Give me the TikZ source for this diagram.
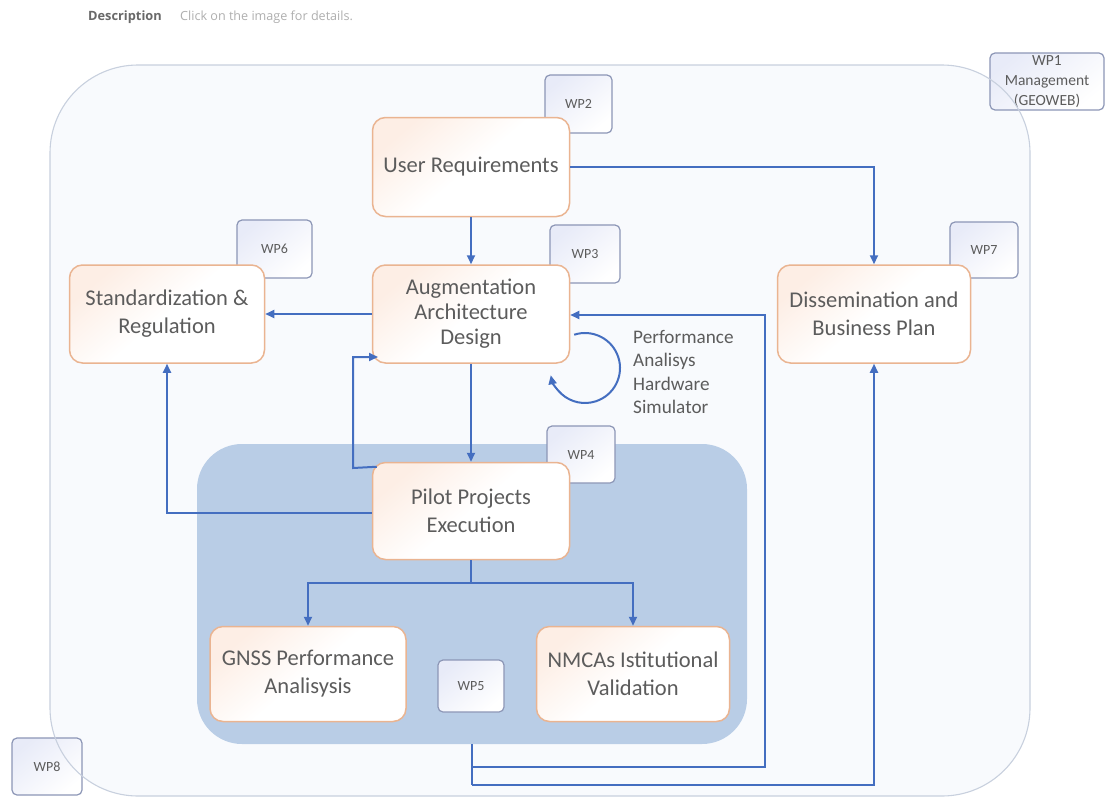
\documentclass[tikz,border=0pt]{standalone}
\usepackage{fontspec}
\setmainfont{Carlito}
\newfontfamily\hdrfont{Open Sans}
\usetikzlibrary{arrows.meta,calc}
\definecolor{txtgray}{RGB}{92,92,92}
\definecolor{conn}{RGB}{68,110,192}
\definecolor{orangeedge}{RGB}{234,180,145}
\definecolor{peach}{RGB}{253,238,229}
\definecolor{wpedge}{RGB}{140,150,182}
\definecolor{wpfill}{RGB}{232,235,248}
\definecolor{areablue}{RGB}{185,205,230}
\definecolor{frameedge}{RGB}{200,208,222}
\definecolor{framefill}{RGB}{248,250,253}
\tikzset{
  mainbox/.style={draw=orangeedge, line width=1.5pt, rounded corners=13pt,
    top color=peach, bottom color=white, middle color=white, shading angle=40,
    text=txtgray, align=center, inner sep=0pt,
    font=\fontsize{22.5}{28}\selectfont},
  wpbox/.style={draw=wpedge, line width=1.2pt, rounded corners=5pt,
    top color=wpfill, bottom color=white, shading angle=40,
    text=txtgray, align=center, inner sep=0pt,
    font=\fontsize{14}{16}\selectfont},
  conn/.style={draw=conn, line width=2pt},
  arr/.style={conn, -{Triangle[length=9pt,width=8pt]}},
}
\begin{document}
\begin{tikzpicture}[x=1pt,y=-1pt]
\useasboundingbox (0,0) rectangle (1105,798);
\fill[white] (0,0) rectangle (1105,798);

% header
\node[anchor=west, inner sep=0pt, text={rgb,255:red,105;green,105;blue,105}, font=\hdrfont\bfseries\fontsize{12.8}{14}\selectfont] (hdr) at (88,17) {Description};
\node[anchor=west, inner sep=0pt, text={rgb,255:red,175;green,175;blue,175}, font=\hdrfont\fontsize{12.6}{14}\selectfont] (hdr2) at (180,17) {Click on the image for details.};

% outer frame fill
\fill[framefill, rounded corners=88pt] (50,65) rectangle (1030,796);

% WP boxes outside
\node[wpbox, minimum width=114pt, minimum height=57pt, font=\fontsize{15.5}{20}\selectfont] (wp1) at (1047,81.5) {WP1\\Management\\(GEOWEB)};
\node[wpbox, minimum width=70pt, minimum height=57pt] (wp8) at (47,766.5) {WP8};

% outer frame stroke
\draw[frameedge, line width=1.1pt, rounded corners=88pt] (50,65) rectangle (1030,796);

% blue area
\node[fill=areablue, rounded corners=45pt, minimum width=550pt, minimum height=300pt, inner sep=0pt] (area) at (472,594) {};

\node[wpbox, minimum width=67pt, minimum height=58pt] (wp2) at (578.5,104) {WP2};
\node[wpbox, minimum width=70pt, minimum height=58pt] (wp3) at (585,254) {WP3};
\node[wpbox, minimum width=75pt, minimum height=58pt] (wp6) at (274.5,249) {WP6};
\node[wpbox, minimum width=68pt, minimum height=56pt] (wp7) at (984,250) {WP7};
\node[wpbox, minimum width=68pt, minimum height=57pt] (wp4) at (581,454.5) {WP4};
\node[wpbox, minimum width=66pt, minimum height=52pt] (wp5) at (471,686) {WP5};

% main boxes
\node[mainbox, minimum width=197pt, minimum height=99pt] (ur) at (471,167) {User Requirements};
\node[mainbox, minimum width=197pt, minimum height=98pt, font=\fontsize{22.5}{25}\selectfont] (aug) at (471,314) {Augmentation\\Architecture\\Design};
\node[mainbox, minimum width=195pt, minimum height=98pt] (std) at (167,314) {Standardization \&\\Regulation};
\node[mainbox, minimum width=193pt, minimum height=98pt] (dis) at (874,314) {Dissemination and\\Business Plan};
\node[mainbox, minimum width=197pt, minimum height=97pt] (pilot) at (471,511) {Pilot Projects\\Execution};
\node[mainbox, minimum width=196pt, minimum height=95pt] (gnss) at (308,674) {GNSS Performance\\Analisysis};
\node[mainbox, minimum width=193pt, minimum height=95pt] (nmca) at (633,674) {NMCAs Istitutional\\Validation};

% side label
\node[anchor=north west, align=left, inner sep=0pt, text=txtgray, font=\fontsize{19.2}{23.5}\selectfont] (perf) at (633,330) {Performance\\Analisys\\Hardware\\Simulator};

% connectors
\draw[arr] (ur.south) -- (aug.north);
\coordinate (urc) at (874,167);
\draw[arr] (ur.east) -- (urc) -- (urc |- dis.north);
\draw[arr] (aug.west) -- (aug.west -| std.east);
\draw[arr] (aug.south) -- (pilot.north);

% pilot loop back to aug
\coordinate (lp1) at ($(pilot.north west)+(5,5)$);
\coordinate (lp2) at (353,468);
\coordinate (lp3) at (353,357);
\coordinate (lp4) at (378,357);
\draw[arr] (lp1) -- (lp2) -- (lp3) -- (lp4);

% pilot to standardization
\coordinate (ps) at (167,513);
\draw[arr] (pilot.west |- ps) -- (ps) -- (std.south);

% branch
\coordinate (br) at (471,583);
\draw[conn] (pilot.south) -- (br);
\draw[arr] (br) -| (gnss.north);
\draw[arr] (br) -| (nmca.north);

% bottom feedback lines
\coordinate (b1) at (472,767);
\coordinate (b2) at (472,785);
\coordinate (r1) at (765,767);
\coordinate (r2) at (874,785);
\coordinate (a1) at (765,315);
\draw[conn] (area.south) -- (b2);
\draw[arr] (b1) -- (r1) -- (a1) -- (aug.east |- a1);
\draw[arr] (b2) -- (r2) -- (r2 |- dis.south);

% self loop
\coordinate (sl) at ($(585,368)+(-108:35)$);
\draw[arr] (sl) arc[start angle=-108, end angle=168, radius=35];

\end{tikzpicture}
\end{document}
